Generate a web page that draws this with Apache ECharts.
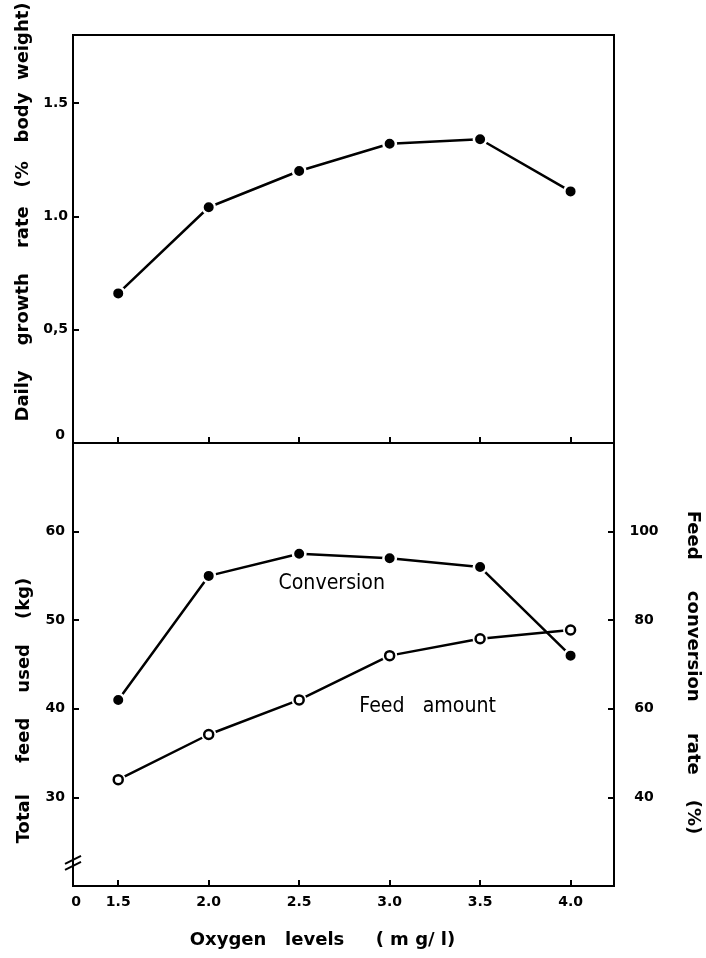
<!DOCTYPE html>
<html>
<head>
<meta charset="utf-8">
<script src="https://cdn.jsdelivr.net/npm/echarts@6/dist/echarts.min.js"></script>
<style>
html, body { margin: 0; padding: 0; background: #fff; }
#main { width: 706px; height: 958px; }
</style>
</head>
<body>
<div id="main"></div>
<script>
// data
var oxygen = [1.5, 2.0, 2.5, 3.0, 3.5, 4.0];
var growthRate = [0.66, 1.04, 1.2, 1.32, 1.34, 1.11];       // % body weight / day
var feedAmount = [32.0, 37.1, 41.0, 46.0, 47.9, 48.9];      // kg, left axis
var conversionRate = [62, 90, 95, 94, 92, 72];              // %, right axis

// ticks and labels
var xTicks = [1.5, 2.0, 2.5, 3.0, 3.5, 4.0];
var xLabelValues = [1.267, 1.5, 2.0, 2.5, 3.0, 3.5, 4.0];  // "0" sits at the broken origin
var xLabelTexts = ['0', '1.5', '2.0', '2.5', '3.0', '3.5', '4.0'];
var growthTicks = [0.5, 1.0, 1.5];
var growthLabelValues = [0, 0.5, 1.0, 1.5];
var growthLabelTexts = ['{z|0}', '0,5', '1.0', '1.5'];
var feedTicks = [30, 40, 50, 60];
var convTicks = [40, 60, 80, 100];

// curve notes (in data units of the lower panel, left axis)
var noteTexts = ['Conversion', 'Feed   amount'];
var noteX = [2.68, 3.21];
var noteY = [54.2, 40.3];

var font = '"DejaVu Sans", sans-serif';
var black = '#000';

function pairs(ys) {
    return oxygen.map(function (x, i) { return [x, ys[i]]; });
}
function lookup(values, texts) {
    return function (v) {
        for (var i = 0; i < values.length; i++) {
            if (Math.abs(values[i] - v) < 1e-6) return texts[i];
        }
        return '';
    };
}
function line() {
    return { show: true, onZero: false, lineStyle: { color: black, width: 2 } };
}
function ticks(vals) {
    return { show: true, inside: true, length: 6, customValues: vals, lineStyle: { color: black, width: 2 } };
}
function labelStyle(extra) {
    var s = { color: black, fontFamily: font, fontSize: 14, fontWeight: 'bold' };
    for (var k in extra) s[k] = extra[k];
    return s;
}
var nameStyle = { color: black, fontFamily: font, fontSize: 18, fontWeight: 'bold' };
function nameStyleWith(padding) {
    var s = {};
    for (var k in nameStyle) s[k] = nameStyle[k];
    s.padding = padding;
    return s;
}

var filledDot = { color: black, borderColor: '#fff', borderWidth: 2.5 };
var openDot = { color: '#fff', borderColor: black, borderWidth: 2.5 };
var curve = { color: black, width: 2.5 };

var myChart = echarts.init(document.getElementById('main'));
var option = {
    animation: false,
    backgroundColor: '#fff',
    grid: [
        { left: 73, top: 35, width: 541, height: 408, outerBoundsMode: 'none', show: true, borderColor: black, borderWidth: 2 },
        { left: 73, top: 443, width: 541, height: 443, outerBoundsMode: 'none', show: true, borderColor: black, borderWidth: 2 }
    ],
    xAxis: [
        {
            gridIndex: 0, type: 'value', min: 1.25, max: 4.24,
            axisLine: line(), axisTick: ticks(xTicks),
            axisLabel: { show: false }, splitLine: { show: false }
        },
        {
            gridIndex: 1, type: 'value', min: 1.25, max: 4.24,
            axisLine: line(), axisTick: ticks(xTicks),
            axisLabel: labelStyle({ customValues: xLabelValues, formatter: lookup(xLabelValues, xLabelTexts), margin: 9 }),
            splitLine: { show: false },
            name: 'Oxygen   levels     ( m g/ l)', nameLocation: 'middle', nameGap: 45,
            nameTextStyle: nameStyleWith([0, 42, 0, 0])
        }
    ],
    yAxis: [
        {
            gridIndex: 0, type: 'value', min: 0, max: 1.8,
            axisLine: line(), axisTick: ticks(growthTicks),
            axisLabel: labelStyle({
                customValues: growthLabelValues, formatter: lookup(growthLabelValues, growthLabelTexts), margin: 5,
                rich: { z: { color: black, fontFamily: font, fontSize: 14, fontWeight: 'bold', padding: [0, 3, 16, 0] } }
            }),
            splitLine: { show: false },
            name: 'Daily    growth    rate   (%   body  weight)', nameLocation: 'middle', nameGap: 40,
            nameTextStyle: nameStyleWith([0, 0, 0, 54])
        },
        {
            gridIndex: 1, type: 'value', min: 20, max: 70,
            axisLine: line(), axisTick: ticks(feedTicks),
            axisLabel: labelStyle({ customValues: feedTicks, margin: 8 }),
            splitLine: { show: false },
            name: 'Total     feed    used    (kg)', nameLocation: 'middle', nameGap: 40,
            nameTextStyle: nameStyleWith([0, 92, 0, 0])
        },
        {
            gridIndex: 1, type: 'value', min: 20, max: 120, position: 'right',
            axisLine: line(), axisTick: ticks(convTicks),
            axisLabel: labelStyle({ customValues: convTicks, margin: 30, align: 'center' }),
            splitLine: { show: false },
            name: 'Feed     conversion     rate    (%)', nameLocation: 'middle', nameGap: 70, nameRotate: -90,
            nameTextStyle: nameStyleWith([0, 0, 0, 16])
        }
    ],
    series: [
        {
            name: 'Growth', type: 'line', xAxisIndex: 0, yAxisIndex: 0,
            data: pairs(growthRate), symbol: 'circle', symbolSize: 12.5,
            itemStyle: filledDot, lineStyle: curve
        },
        {
            name: 'Feed amount', type: 'line', xAxisIndex: 1, yAxisIndex: 1,
            data: pairs(feedAmount), showSymbol: false, lineStyle: curve
        },
        {
            name: 'Conversion', type: 'line', xAxisIndex: 1, yAxisIndex: 2,
            data: pairs(conversionRate), symbol: 'circle', symbolSize: 12.5,
            itemStyle: filledDot, lineStyle: curve
        },
        {
            // white halo so the line stops short of the open circles
            name: 'Feed halo', type: 'line', xAxisIndex: 1, yAxisIndex: 1,
            data: pairs(feedAmount), symbol: 'circle', symbolSize: 15,
            itemStyle: { color: '#fff' }, lineStyle: { width: 0, opacity: 0 }
        },
        {
            name: 'Feed points', type: 'line', xAxisIndex: 1, yAxisIndex: 1,
            data: pairs(feedAmount), symbol: 'circle', symbolSize: 9,
            itemStyle: openDot, lineStyle: { width: 0, opacity: 0 }
        }
    ]
};
myChart.setOption(option);

// curve notes and the axis break, placed through the chart's own scales
var graphics = noteTexts.map(function (t, i) {
    var p = myChart.convertToPixel({ xAxisIndex: 1, yAxisIndex: 1 }, [noteX[i], noteY[i]]);
    return {
        type: 'text', x: p[0], y: p[1], scaleY: 1.12,
        style: { text: t, fill: black, font: '19px ' + font, align: 'center', verticalAlign: 'middle' }
    };
});
var b = myChart.convertToPixel({ xAxisIndex: 1, yAxisIndex: 1 }, [1.25, 22.6]);
[-3, 3].forEach(function (d) {
    graphics.push({
        type: 'line',
        shape: { x1: b[0] - 8, y1: b[1] + d + 4, x2: b[0] + 8, y2: b[1] + d - 4 },
        style: { stroke: black, lineWidth: 2 }
    });
});
myChart.setOption({ graphic: graphics });
</script>
</body>
</html>
